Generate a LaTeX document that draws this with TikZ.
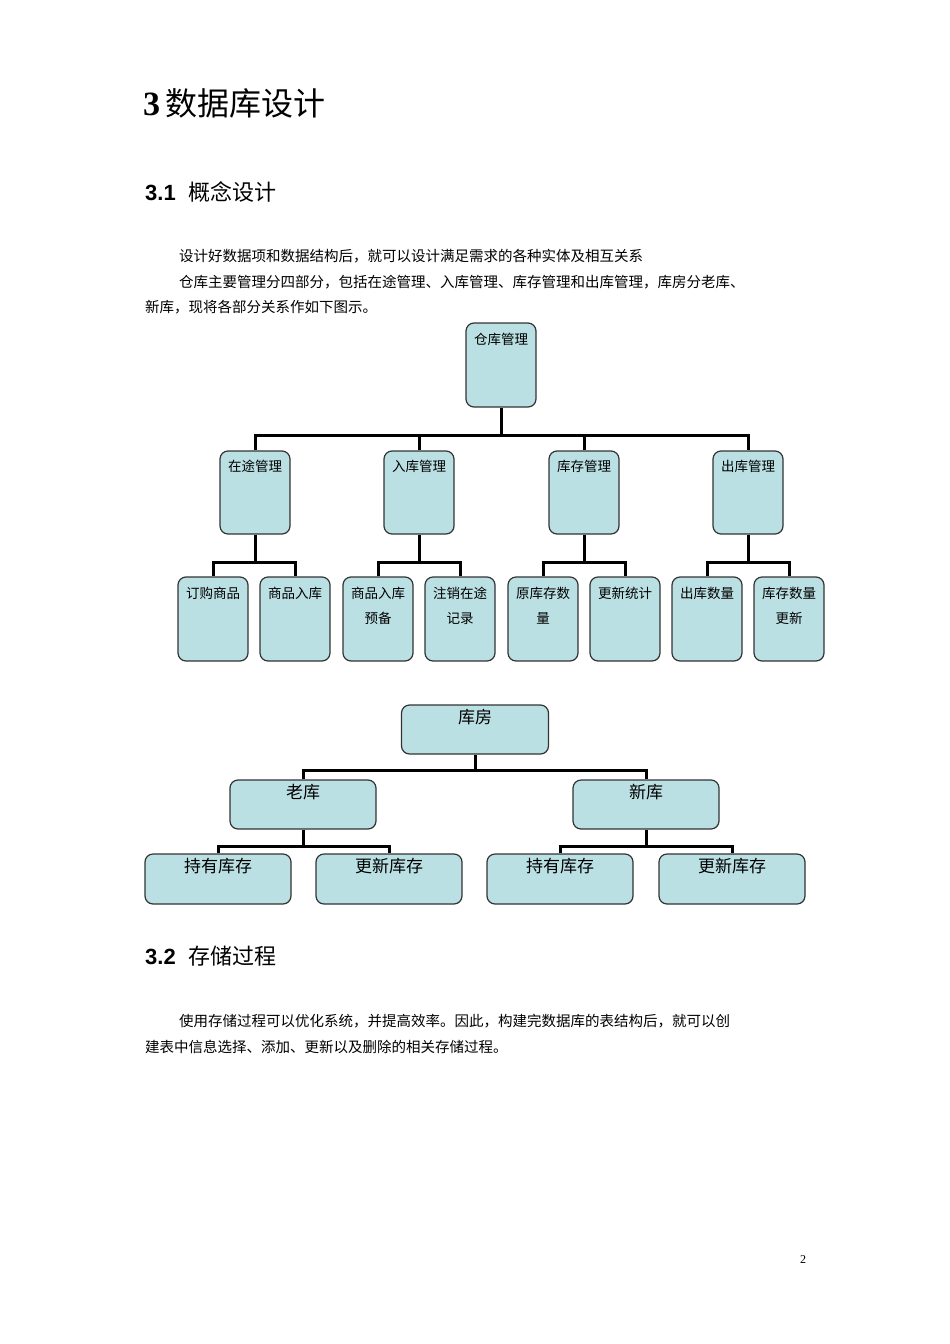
\documentclass[tikz,border=0pt]{standalone}
\usepackage{fontspec}
\usetikzlibrary{calc}
\setmainfont{Liberation Serif}
\newfontfamily\cjk{Noto Sans CJK SC}
\newfontfamily\hsans{Liberation Sans}
\definecolor{boxfill}{HTML}{BBE0E3}
\tikzset{
  bx/.style={draw=black!80,line width=1.2pt,fill=boxfill,rounded corners=8pt,inner sep=0pt},
  conn/.style={line width=3pt},
  lbl/.style={anchor=north,inner sep=0pt,align=center,font=\cjk\fontsize{13.5}{25}\selectfont},
  lblb/.style={anchor=north,inner sep=0pt,font=\cjk\fontsize{17}{20}\selectfont},
  para/.style={anchor=west,inner sep=0pt,font=\cjk\fontsize{14.5}{17}\selectfont}
}
\begin{document}
\begin{tikzpicture}[x=1pt,y=-1pt]
\useasboundingbox[fill=white] (0,0) rectangle (950,1344);
\node[anchor=west,inner sep=0pt] (t1) at (143,103) {{\fontsize{34}{36}\selectfont\bfseries 3\,}{\cjk\fontsize{32}{36}\selectfont 数据库设计}};
\node[anchor=west,inner sep=0pt] (t2) at (145,192) {{\hsans\bfseries\fontsize{22}{24}\selectfont 3.1\ \ }{\cjk\fontsize{22}{24}\selectfont 概念设计}};
\node[para] (p1) at (179,256) {设计好数据项和数据结构后，就可以设计满足需求的各种实体及相互关系};
\node[para] (p2) at (179,282) {仓库主要管理分四部分，包括在途管理、入库管理、库存管理和出库管理，库房分老库、};
\node[para] (p3) at (145,307) {新库，现将各部分关系作如下图示。};
% tree 1
\node[bx,minimum width=70pt,minimum height=84pt] (r) at (501,365) {};
\node[lbl] at (501,333) {仓库管理};
\foreach \n/\x/\t in {m1/255/在途管理,m2/419/入库管理,m3/584/库存管理,m4/748/出库管理}{
  \node[bx,minimum width=70pt,minimum height=83pt] (\n) at (\x,492.5) {};
  \node[lbl] at (\x,460) {\t};
}
\foreach \n/\x/\t in {l1/213/订购商品,l2/295/商品入库,l3/378/{商品入库\\预备},l4/460/{注销在途\\记录},l5/543/{原库存数\\量},l6/625/更新统计,l7/707/出库数量,l8/789/{库存数量\\更新}}{
  \node[bx,minimum width=70pt,minimum height=84pt] (\n) at (\x,619) {};
  \node[lbl] at (\x,587) {\t};
}
\coordinate (b1) at (501,435);
\draw[conn] (r.south) -- (b1);
\draw[conn] (m1.north) |- (b1) -| (m4.north);
\draw[conn] (m2.north) -- (m2.north |- b1);
\draw[conn] (m3.north) -- (m3.north |- b1);
\foreach \m/\a/\b in {m1/l1/l2,m2/l3/l4,m3/l5/l6,m4/l7/l8}{
  \coordinate (c\m) at ($(\m.south)+(0,28)$);
  \draw[conn] (\m.south) -- (c\m);
  \draw[conn] (\a.north) |- (c\m) -| (\b.north);
}
% tree 2
\node[bx,minimum width=147pt,minimum height=49pt] (k) at (475,729.5) {};
\node[lblb] at (475,709) {库房};
\node[bx,minimum width=146pt,minimum height=49pt] (o) at (303,804.5) {};
\node[lblb] at (303,784) {老库};
\node[bx,minimum width=146pt,minimum height=49pt] (n) at (646,804.5) {};
\node[lblb] at (646,784) {新库};
\foreach \n/\x/\t in {s1/218/持有库存,s2/389/更新库存,s3/560/持有库存,s4/732/更新库存}{
  \node[bx,minimum width=146pt,minimum height=50pt] (\n) at (\x,879) {};
  \node[lblb] at (\x,858) {\t};
}
\coordinate (kb) at (475,770);
\draw[conn] (k.south) -- (kb);
\draw[conn] (o.north) |- (kb) -| (n.north);
\coordinate (ob) at (303,846);
\coordinate (nb) at (646,846);
\draw[conn] (o.south) -- (ob);
\draw[conn] (s1.north) |- (ob) -| (s2.north);
\draw[conn] (n.south) -- (nb);
\draw[conn] (s3.north) |- (nb) -| (s4.north);
\node[anchor=west,inner sep=0pt] (t3) at (145,956) {{\hsans\bfseries\fontsize{22}{24}\selectfont 3.2\ \ }{\cjk\fontsize{22}{24}\selectfont 存储过程}};
\node[para] (p4) at (179,1021) {使用存储过程可以优化系统，并提高效率。因此，构建完数据库的表结构后，就可以创};
\node[para] (p5) at (145,1047) {建表中信息选择、添加、更新以及删除的相关存储过程。};
\node[anchor=center,inner sep=0pt,font=\fontsize{12}{14}\selectfont] (pg) at (803,1260) {2};
\end{tikzpicture}
\end{document}
